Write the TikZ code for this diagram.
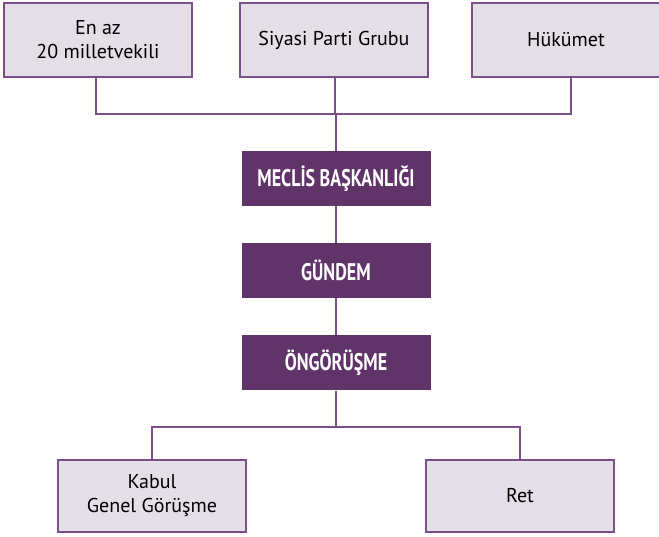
\documentclass[tikz,border=0pt]{standalone}
\usepackage{fontspec}
\setmainfont{PT Sans}
\newfontfamily\condbold[FakeStretch=0.75]{PT Sans Bold}
\definecolor{boxfill}{HTML}{E4DEE6}
\definecolor{boxline}{HTML}{7A4E88}
\definecolor{darkbox}{HTML}{603369}
\begin{document}
\begin{tikzpicture}[x=1pt,y=-1pt,
  lightbox/.style={draw=boxline,fill=boxfill,line width=1.3pt,minimum width=188pt,minimum height=74pt,align=center,font=\fontsize{20}{24}\selectfont,inner sep=0pt},
  stagebox/.style={fill=darkbox,minimum width=189pt,minimum height=55pt,text=white,font=\condbold\fontsize{24}{28}\selectfont,inner sep=0pt},
  link/.style={draw=boxline,line width=1.3pt}]
\useasboundingbox (0,0) rectangle (659,537);
\node[lightbox] (mv) at (98,40) {En az\\20 milletvekili};
\node[lightbox] (pg) at (334,40) {Siyasi Parti Grubu};
\node[lightbox] (hk) at (566,40) {Hükümet};
\node[stagebox] (mb) at (336,178.5) {MECLİS BAŞKANLIĞI};
\node[stagebox] (gd) at (336,270.5) {GÜNDEM};
\node[stagebox] (og) at (336,363) {ÖNGÖRÜŞME};
\node[lightbox,minimum height=72pt] (kb) at (152,496) {Kabul\\Genel Görüşme};
\node[lightbox,minimum height=72pt] (rt) at (520,496) {Ret};
\coordinate (j1) at (336,114);
\coordinate (j2) at (336,427);
\draw[link] (mv.south -| 96,0) |- (j1) -| (hk.south -| 571,0);
\draw[link] (pg.south -| 335,0) -- (335,114);
\draw[link] (j1) -- (mb.north);
\draw[link] (mb) -- (gd);
\draw[link] (gd) -- (og);
\draw[link] (og.south) -- (j2);
\draw[link] (kb.north) |- (j2) -| (rt.north);
\end{tikzpicture}
\end{document}
